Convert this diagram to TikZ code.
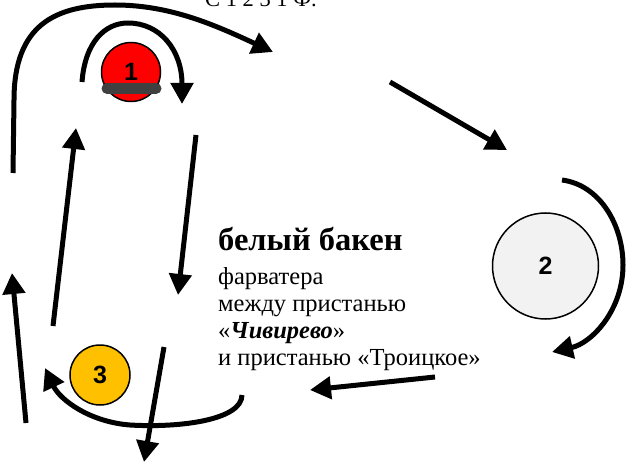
\documentclass[tikz,border=0pt]{standalone}
\usepackage{fontspec}
\setmainfont{Liberation Serif}
\setsansfont{Liberation Sans}
\usetikzlibrary{arrows.meta}
\definecolor{buoyred}{RGB}{255,0,0}
\definecolor{buoygrey}{RGB}{242,242,242}
\definecolor{buoygold}{RGB}{255,192,0}
\definecolor{bardark}{RGB}{64,64,64}
\begin{document}
\begin{tikzpicture}[x=1pt,y=-1pt]
        \tikzstyle{buoy}=[circle, draw=black, line width=1.5pt, inner sep=0pt, font=\sffamily\bfseries\fontsize{25}{25}\selectfont]
        \tikzstyle{course}=[-{Triangle[length=21pt,width=22pt]}, line width=5pt]
        \tikzstyle{caption}=[anchor=base west, inner sep=0pt, align=left, font=\fontsize{24.5}{27}\selectfont]
        \useasboundingbox (0,0) rectangle (629,465);
        % \draw[step=50] (0,0) grid (629,465);
        \node[buoy, fill=buoyred, minimum size=59pt] (buoy-1) at (131,72) {1};
        \draw[bardark, line width=11pt, line cap=round] (107,88.5) -- (156,88.5);
        \node[buoy, fill=buoygrey, minimum size=106pt] (buoy-2) at (545.5,266) {2};
        \node[buoy, fill=buoygold, minimum size=60pt] (buoy-3) at (100,375) {3};

        \node[caption, font=\fontsize{22.5}{27}\selectfont] (route) at (205,6.5) {С 1 2 3 1 Ф.};
        \node[caption, font=\bfseries\fontsize{32.5}{32}\selectfont] (beacon-title) at (218,251) {белый бакен};
        % base of a multi-line node is its last line
        \node[caption] (beacon-text) at (218,365) {фарватера\\между пристанью\\«\textbf{\textit{Чивирево}}»\\и пристанью «Троицкое»};

        \coordinate (big-start) at (13,173);
        \coordinate (big-end) at (273,52);
        \coordinate (round-1-start) at (82,82);
        \coordinate (round-1-end) at (182,104);
        \coordinate (leg-12-start) at (390,82);
        \coordinate (leg-12-end) at (507,150);
        \coordinate (round-2-start) at (562,180);
        \coordinate (round-2-end) at (552,352);
        \coordinate (leg-23-start) at (435,377);
        \coordinate (leg-23-end) at (310,390);
        \coordinate (round-3-start) at (242,395);
        \coordinate (round-3-end) at (45,368);
        \coordinate (left-start) at (26,423);
        \coordinate (left-end) at (12,273);
        \coordinate (up-start) at (53,326);
        \coordinate (up-end) at (76,128);
        \coordinate (down-start) at (196,135);
        \coordinate (down-end) at (178,295);
        \coordinate (out-start) at (164,347);
        \coordinate (out-end) at (144,462);

        \draw[course] (big-start) -- (14,100) .. controls (14,25) and (55,5) .. (115,5) .. controls (170,5) and (215,25) .. (big-end);
        \draw[course] (round-1-start) .. controls (85,42) and (105,23) .. (128,23) .. controls (160,23) and (182,50) .. (round-1-end);
        \draw[course] (leg-12-start) -- (leg-12-end);
        \draw[course] (round-2-start) .. controls (600,185) and (623,225) .. (623,265) .. controls (623,310) and (592,343) .. (round-2-end);
        \draw[course] (leg-23-start) -- (leg-23-end);
        \draw[course] (round-3-start) .. controls (242,420) and (180,428) .. (130,425) .. controls (90,422) and (60,400) .. (round-3-end);
        \draw[course] (left-start) -- (left-end);
        \draw[course] (up-start) -- (up-end);
        \draw[course] (down-start) -- (down-end);
        \draw[course] (out-start) -- (out-end);
\end{tikzpicture}
\end{document}
